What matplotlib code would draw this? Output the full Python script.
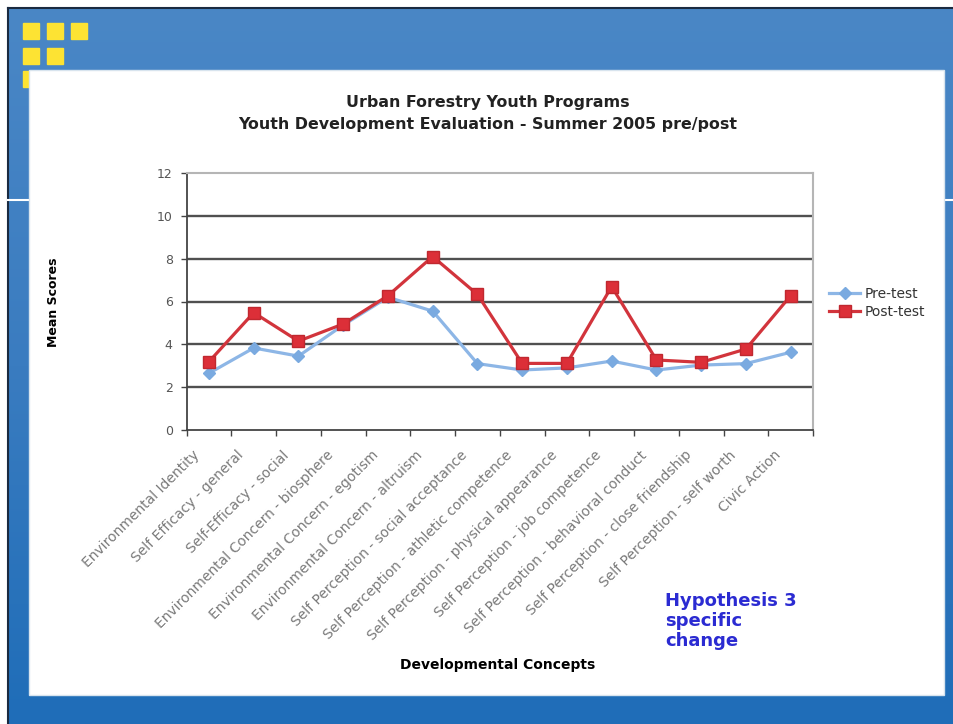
import numpy as np
import matplotlib
matplotlib.use('Agg')
import matplotlib.pyplot as plt
from matplotlib.patches import Rectangle
from matplotlib.transforms import ScaledTranslation

# Data
concepts = [
    'Environmental Identity',
    'Self Efficacy - general',
    'Self-Efficacy - social',
    'Environmental Concern - biosphere',
    'Environmental Concern - egotism',
    'Environmental Concern - altruism',
    'Self Perception - social acceptance',
    'Self Perception - athletic competence',
    'Self Perception - physical appearance',
    'Self Perception - job competence',
    'Self Perception - behavioral conduct',
    'Self Perception - close friendship',
    'Self Perception - self worth',
    'Civic Action',
]
pre_test = [2.65, 3.83, 3.45, 4.9, 6.2, 5.55, 3.1, 2.8, 2.9, 3.22, 2.8, 3.03, 3.1, 3.63]
post_test = [3.19, 5.48, 4.15, 4.95, 6.27, 8.1, 6.33, 3.11, 3.11, 6.7, 3.27, 3.16, 3.78, 6.27]
y_ticks = [0, 2, 4, 6, 8, 10, 12]

W, H = 954, 724
fig = plt.figure(figsize=(W / 100, H / 100), dpi=100)
fig.patch.set_facecolor('white')

# slide background (pixel coordinates)
bg = fig.add_axes([0, 0, 1, 1], zorder=0)
bg.set_xlim(0, W)
bg.set_ylim(H, 0)
bg.axis('off')
grad = np.linspace(0, 1, 256).reshape(-1, 1)
bg.imshow(grad, cmap=matplotlib.colors.LinearSegmentedColormap.from_list(
    'slide', ['#4a87c6', '#3a7cc0', '#1f6db8']),
    extent=(8, W, H, 8), aspect='auto', zorder=0)
bg.plot([8, 8], [8, H], color='#1a2a40', lw=1.5, zorder=1)
bg.plot([8, W], [8, 8], color='#1a2a40', lw=1.5, zorder=1)
bg.plot([8, W], [200, 200], color='white', lw=1.5, zorder=1)
# yellow squares
for (sx, sy) in [(23, 23), (47, 23), (71, 23), (23, 48), (47, 48), (23, 71)]:
    bg.add_patch(Rectangle((sx, sy), 16, 16, color='#fde333', zorder=2))
# white panel
bg.add_patch(Rectangle((29, 70), 915, 625, facecolor='white', edgecolor='#d8e4ee', lw=1, zorder=3))

# chart
ax = fig.add_axes([186.6 / W, (H - 430) / H, (813 - 186.6) / W, 257 / H], zorder=2)
ax.set_facecolor('white')
x = np.arange(len(concepts))
ax.set_xlim(-0.5, len(concepts) - 0.5)
ax.set_ylim(0, 12)
ax.set_yticks(y_ticks)
ax.set_yticklabels([str(v) for v in y_ticks], fontsize=9, color='#555555')
for v in y_ticks[1:-1]:
    ax.axhline(v, color='#505050', lw=1.7, zorder=1)
for side in ['top', 'right']:
    ax.spines[side].set_color('#b5b5b5')
    ax.spines[side].set_linewidth(1.5)
for side in ['left', 'bottom']:
    ax.spines[side].set_color('#444444')
    ax.spines[side].set_linewidth(1.3)
ax.tick_params(axis='y', length=4, width=1, color='#444444', pad=6)

ax.set_xticks(x)
ax.set_xticklabels(concepts, rotation=45, ha='right', rotation_mode='anchor',
                   fontsize=10, color='#7a7a7a')
ax.tick_params(axis='x', which='major', length=0, pad=13)
shift = ScaledTranslation(-17 / 100, 0, fig.dpi_scale_trans)
for lab in ax.get_xticklabels():
    lab.set_transform(lab.get_transform() + shift)
ax.set_xticks(np.arange(len(concepts) + 1) - 0.5, minor=True)
ax.tick_params(axis='x', which='minor', length=4, width=1, color='#444444')

ax.plot(x, pre_test, color='#8db6e6', lw=2.3, marker='D', markersize=6,
        markerfacecolor='#7aaae0', markeredgecolor='#7aaae0', label='Pre-test', zorder=3)
ax.plot(x, post_test, color='#d2343c', lw=2.3, marker='s', markersize=8.5,
        markerfacecolor='#dc2f38', markeredgecolor='#c0282f', label='Post-test', zorder=4)

ax.set_ylabel('Mean Scores', fontsize=9, fontweight='bold')
ax.yaxis.set_label_coords(-(186.6 - 60) / (813 - 186.6), (430 - 302) / 257)
ax.set_xlabel('Developmental Concepts', fontsize=10, fontweight='bold')
ax.xaxis.set_label_coords((498 - 186.6) / (813 - 186.6), -(658 - 430) / 257)

fig.legend(loc='center left', bbox_to_anchor=(817 / W, 1 - 303 / H), frameon=False,
           fontsize=10, handlelength=2.2, handletextpad=0.3, labelspacing=0.25,
           labelcolor='#333333')

fig.text(488 / W, 1 - 103 / H, 'Urban Forestry Youth Programs', ha='center', va='center',
         fontsize=11.4, fontweight='bold', color='#222222', zorder=5)
fig.text(488 / W, 1 - 125 / H, 'Youth Development Evaluation - Summer 2005 pre/post',
         ha='center', va='center', fontsize=11.4, fontweight='bold', color='#222222', zorder=5)
fig.text(665 / W, 1 - 621 / H, 'Hypothesis 3\nspecific\nchange', ha='left', va='center',
         fontsize=13, fontweight='bold', color='#2b2bd2', linespacing=1.12, zorder=5)

fig.savefig('out.png', dpi=100)
